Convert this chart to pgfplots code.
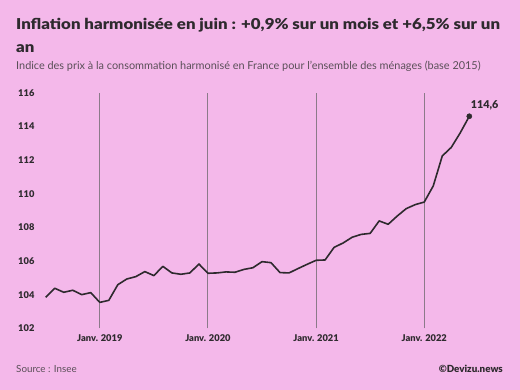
\documentclass[border=0pt]{standalone}
\usepackage{pgfplots}
\pgfplotsset{compat=1.18}
\usepackage{fontspec}
\setmainfont{Lato}[BoldFont={Lato Black}]
\newfontfamily\titlefont{Lato Black}[FakeStretch=1.122]
\definecolor{bgpink}{HTML}{F4B8EA}
\definecolor{ink}{HTML}{2E2A2E}
\definecolor{gridgray}{HTML}{8C7A8A}
\definecolor{subgray}{HTML}{5A4F58}

% HICP France, base 2015; x = month number counted from Jan. 2018 = 0
\pgfplotstableread{
m  v
6  103.84
7  104.38
8  104.14
9  104.26
10 104.00
11 104.12
12 103.54
13 103.66
14 104.59
15 104.93
16 105.07
17 105.37
18 105.13
19 105.68
20 105.29
21 105.21
22 105.29
23 105.82
24 105.27
25 105.29
26 105.35
27 105.33
28 105.50
29 105.60
30 105.96
31 105.90
32 105.31
33 105.29
34 105.55
35 105.80
36 106.04
37 106.06
38 106.81
39 107.07
40 107.41
41 107.58
42 107.64
43 108.38
44 108.18
45 108.67
46 109.11
47 109.35
48 109.50
49 110.46
50 112.24
51 112.75
52 113.62
53 114.60
}\hicp

\pgfplotstableread{
m  v
53 114.60
}\lastpoint

\begin{document}
\begin{tikzpicture}[x=1pt,y=1pt]
\fill[bgpink] (0,0) rectangle (520,390);
\node[anchor=base west, inner sep=0, font=\fontsize{15}{17}\titlefont, text=ink] at (16,360) {Inflation harmonisée en juin : +0,9\% sur un mois et +6,5\% sur un};
\node[anchor=base west, inner sep=0, font=\fontsize{15}{17}\titlefont, text=ink] at (16,337) {an};
\node[anchor=base west, inner sep=0, font=\fontsize{10.9}{13}\selectfont, text=subgray] at (16,320) {Indice des prix à la consommation harmonisé en France pour l'ensemble des ménages (base 2015)};
\node[anchor=base west, inner sep=0, font=\fontsize{9.8}{12}\selectfont, text=subgray] at (16,17) {Source : Insee};
\node[anchor=base east, inner sep=0, font=\fontsize{9.8}{12}\selectfont\bfseries, text=ink] at (503,17) {©Devizu.news};
\begin{axis}[
  at={(45.7pt,61.7pt)}, anchor=south west,
  scale only axis, width=423.6pt, height=235.6pt,
  xmin=6, xmax=53, ymin=102, ymax=116,
  axis line style={draw=none},
  major tick length=0pt,
  xtick={12,24,36,48},
  xticklabels={Janv. 2019, Janv. 2020, Janv. 2021, Janv. 2022},
  ytick={102,104,...,116},
  xmajorgrids, ymajorgrids=false,
  grid style={gridgray, line width=0.9pt},
  tick label style={font=\fontsize{9.3}{11}\selectfont\bfseries, text=ink},
  /pgf/number format/assume math mode=true,
  yticklabel style={anchor=west, xshift=-31pt},
  xticklabel style={yshift=-3pt},
  clip=false,
]
\addplot[ink, line width=1.6pt, line join=round] table[x=m, y=v] {\hicp};
\addplot[ink, only marks, mark=*, mark size=2.6pt,
  nodes near coords={114,6},
  every node near coord/.append style={font=\fontsize{10.8}{12}\selectfont\bfseries, text=ink, anchor=south west, xshift=-2pt, yshift=3pt}]
  table[x=m, y=v] {\lastpoint};
\end{axis}
\end{tikzpicture}
\end{document}
